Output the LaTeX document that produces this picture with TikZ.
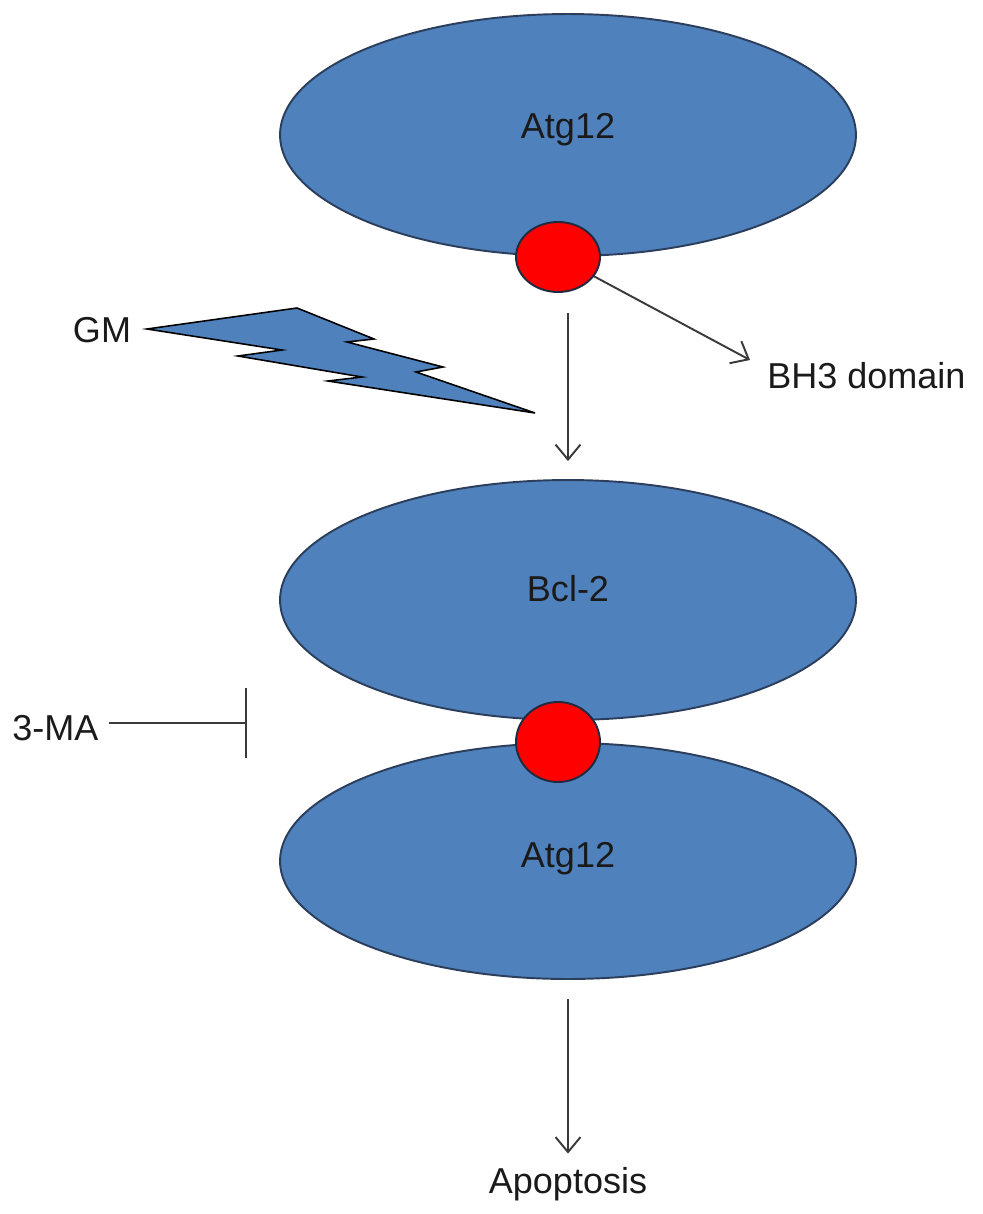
\documentclass[tikz,border=0pt]{standalone}
\usepackage{fontspec}
\setmainfont{Liberation Sans}
\usetikzlibrary{shapes.geometric,arrows.meta}
\definecolor{protblue}{HTML}{4F81BD}
\definecolor{protedge}{HTML}{2B3E5C}
\definecolor{dotred}{HTML}{FF0000}
\definecolor{linegray}{HTML}{3A3A3A}
\definecolor{txt}{HTML}{1A1A1A}
\begin{document}
\begin{tikzpicture}[x=0.02cm,y=-0.02cm,
  protein/.style={ellipse,draw=protedge,fill=protblue,line width=1.1pt,inner sep=0pt,minimum width=11.52cm},
  bhdot/.style={ellipse,draw=protedge!70!black,fill=dotred,line width=1.1pt,inner sep=0pt,minimum width=1.68cm},
  lbl/.style={inner sep=0pt,text=txt,font=\fontsize{20.5}{24}\selectfont},
  arr/.style={draw=linegray,line width=1.1pt,-{Straight Barb[length=0.3cm,width=0.5cm,line width=1.1pt]}},
  inhib/.style={draw=linegray,line width=1.1pt,-{Bar[width=1.4cm,line width=1.1pt]}}
]
\useasboundingbox (0,0) rectangle (983,1214);

% proteins
\node[protein,minimum height=4.84cm] (atgtop) at (568,135) {};
\node[protein,minimum height=4.8cm] (bcl) at (568,600) {};
\node[protein,minimum height=4.72cm] (atgbot) at (568,861) {};

% BH3 domains
\node[bhdot,minimum height=1.4cm] (dot1) at (558,257) {};
\node[bhdot,minimum height=1.6cm] (dot2) at (558,742) {};

% labels inside proteins
\node[lbl,anchor=base] (tatgtop) at (568,138) {Atg12};
\node[lbl,anchor=base] (tbcl) at (568,601) {Bcl-2};
\node[lbl,anchor=base] (tatgbot) at (568,867) {Atg12};

% outside labels
\node[lbl,anchor=base west] (bh3) at (767,388) {BH3 domain};
\node[lbl,anchor=base] (gm) at (102,342) {GM};
\node[lbl,anchor=base west] (ma) at (12,740) {3-MA};
\node[lbl,anchor=base] (apop) at (568,1193) {Apoptosis};

% lightning bolt
\draw[fill=protblue,draw=black,line width=0.9pt,line join=miter]
  (147,329) -- (297,308) -- (374,339) -- (347,342) -- (443,367) -- (416,372)
  -- (535,413) -- (328,381) -- (362,377) -- (238,356) -- (282,350) -- cycle;

% connectors
\coordinate (bh3tip) at (750,360);
\coordinate (bar) at (247,723);
\draw[arr] (dot1) -- (bh3tip);
\draw[arr,shorten <=0.4cm,shorten >=0.36cm] (bcl.north |- dot1.south) -- (bcl.north);
\draw[arr,shorten <=0.38cm,shorten >=0.26cm] (atgbot.south) -- (apop.north);
\draw[inhib,shorten <=0.2cm] (ma.east |- bar) -- (bar);
\end{tikzpicture}
\end{document}
